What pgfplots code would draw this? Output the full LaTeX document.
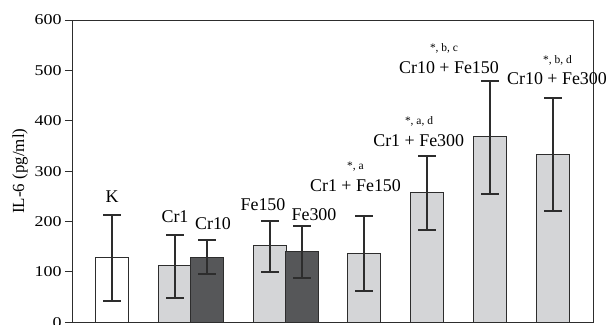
\documentclass[border=0pt]{standalone}
\usepackage{pgfplots}
\usepackage{graphicx}
\pgfplotsset{compat=1.18}
\usepackage{fontspec}
\setmainfont{Liberation Serif}
\definecolor{lgray}{RGB}{212,213,215}
\definecolor{dgray}{RGB}{86,87,89}
\definecolor{edge}{RGB}{45,45,45}
\pgfplotsset{myerr/.style={
  error bars/y dir=both, error bars/y explicit,
  error bars/error bar style={edge, line width=1.1pt},
  error bars/error mark options={edge, line width=2pt, mark size=8.8bp, rotate=90},
}}
\begin{document}
\begin{tikzpicture}
\useasboundingbox (0,0) rectangle (609bp,325bp);
\begin{axis}[
  at={(72bp,2.7bp)}, anchor=south west,
  scale only axis, width=521bp, height=302.3bp,
  xmin=72, xmax=593, ymin=0, ymax=600,
  xtick=\empty, ytick={0,100,...,600},
  ytick pos=left, tick align=outside, major tick length=7bp,
  axis line style={edge, line width=0.9pt},
  tick style={edge, line width=0.9pt},
  yticklabel={\scalebox{1.2}[1]{\pgfmathprintnumber[assume math mode=true]{\tick}}},
  yticklabel style={font=\fontsize{15}{17}\selectfont},
  ylabel={IL-6 (pg/ml)},
  ylabel style={font=\fontsize{17}{19}\selectfont},
  clip=false,
  ybar, bar shift=0pt, bar width=32.6,
  every axis plot/.append style={draw=edge, line width=0.8pt},
]
\addplot[fill=white, myerr] coordinates {
  (112,128) += (0,84) -= (0,86)
};
\addplot[fill=lgray, myerr] coordinates {
  (175,113) += (0,61) -= (0,64)
  (270,153) += (0,49) -= (0,54)
  (364,136) += (0,74) -= (0,73)
  (427,257) += (0,74) -= (0,74)
  (490,369) += (0,109) -= (0,115)
  (553,333) += (0,113) -= (0,112)
};
\addplot[fill=dgray, myerr] coordinates {
  (207,129) += (0,35) -= (0,34)
  (302,140) += (0,51) -= (0,53)
};
\begin{scope}[font=\fontsize{18}{20}\selectfont]
\node[anchor=base] at (axis cs:112,236.8) {K};
\node[anchor=base] at (axis cs:175,197.7) {Cr1};
\node[anchor=base] at (axis cs:213,183.2) {Cr10};
\node[anchor=base] at (axis cs:263,221.5) {Fe150};
\node[anchor=base] at (axis cs:314,203) {Fe300};
\node[anchor=base] at (axis cs:355.5,260.6) {Cr1 + Fe150};
\node[anchor=base] at (axis cs:418.7,349) {Cr1 + Fe300};
\node[anchor=base] at (axis cs:449,494.3) {Cr10 + Fe150};
\node[anchor=base] at (axis cs:557,471) {Cr10 + Fe300};
\end{scope}
\begin{scope}[font=\fontsize{11.5}{13}\selectfont]
\node[anchor=base] at (axis cs:355.5,302.3) {*, a};
\node[anchor=base] at (axis cs:419,391.6) {*, a, d};
\node[anchor=base] at (axis cs:444,537.1) {*, b, c};
\node[anchor=base] at (axis cs:557.5,514) {*, b, d};
\end{scope}
\end{axis}
\end{tikzpicture}
\end{document}
